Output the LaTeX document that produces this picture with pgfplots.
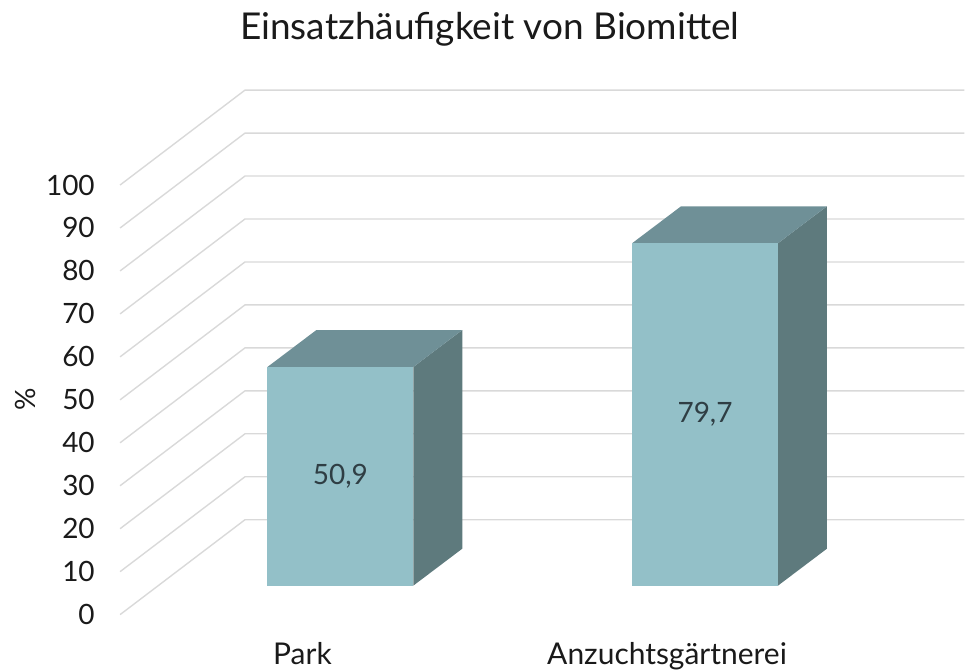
\documentclass[border=0pt]{standalone}
\usepackage{pgfplots}
\pgfplotsset{compat=1.18}
\usepackage{fontspec}
\setmainfont{Lato}
\definecolor{barfront}{RGB}{147,192,200}
\definecolor{bartop}{RGB}{111,144,151}
\definecolor{barside}{RGB}{94,122,125}
\definecolor{gridc}{RGB}{217,217,217}
\definecolor{txt}{RGB}{26,26,26}
\definecolor{valtxt}{RGB}{47,62,68}
\begin{document}
\begin{tikzpicture}
% oblique 3D look: floor depth = (+0.3425 in x, +22.09 in y); bars sit between depth 0.305 and 0.695
\begin{axis}[
  scale only axis, width=482.5pt, height=336pt,
  xmin=-0.3288, xmax=2.3151, ymin=-13.256, ymax=143.02,
  axis line style={draw=none}, major tick length=0pt,
  clip=false,
  xtick={0.5,1.5}, xticklabels={Park,Anzuchtsgärtnerei},
  xticklabel style={font=\fontsize{15}{18}\selectfont, color=txt, anchor=base, inner sep=0pt, yshift=3.5pt},
  ytick={0,10,...,100},
  yticklabel style={font=\fontsize{14}{17}\selectfont, color=txt, anchor=east, inner sep=0pt, xshift=47.5pt},
  /pgf/number format/assume math mode=true,
  ylabel={\%},
  ylabel style={at={(rel axis cs:0.0259,0.405)}, anchor=center, font=\fontsize{14}{17}\selectfont, color=txt},
  title={Einsatzhäufigkeit von Biomittel},
  every axis title shift=0pt,
  title style={at={(rel axis cs:0.5078,0.942)}, anchor=base, inner sep=0pt, font=\fontsize{18.5}{22}\selectfont, color=txt},
]
% gridlines: diagonal on the floor side, then along the back wall
\addplot[gridc, line width=0.7pt] coordinates {(0,0) (0.3425,22.09) (2.3151,22.09)};
\addplot[gridc, line width=0.7pt] coordinates {(0,10) (0.3425,32.09) (2.3151,32.09)};
\addplot[gridc, line width=0.7pt] coordinates {(0,20) (0.3425,42.09) (2.3151,42.09)};
\addplot[gridc, line width=0.7pt] coordinates {(0,30) (0.3425,52.09) (2.3151,52.09)};
\addplot[gridc, line width=0.7pt] coordinates {(0,40) (0.3425,62.09) (2.3151,62.09)};
\addplot[gridc, line width=0.7pt] coordinates {(0,50) (0.3425,72.09) (2.3151,72.09)};
\addplot[gridc, line width=0.7pt] coordinates {(0,60) (0.3425,82.09) (2.3151,82.09)};
\addplot[gridc, line width=0.7pt] coordinates {(0,70) (0.3425,92.09) (2.3151,92.09)};
\addplot[gridc, line width=0.7pt] coordinates {(0,80) (0.3425,102.09) (2.3151,102.09)};
\addplot[gridc, line width=0.7pt] coordinates {(0,90) (0.3425,112.09) (2.3151,112.09)};
\addplot[gridc, line width=0.7pt] coordinates {(0,100) (0.3425,122.09) (2.3151,122.09)};

% Park: 50.9
\addplot[fill=barside, draw=none] coordinates {(0.8041,6.744) (0.9384,15.35) (0.9384,66.25) (0.8041,57.644)} -- cycle;
\addplot[fill=bartop, draw=none] coordinates {(0.4041,57.644) (0.8041,57.644) (0.9384,66.25) (0.5384,66.25)} -- cycle;
\addplot[fill=barfront, draw=none] coordinates {(0.4041,6.744) (0.8041,6.744) (0.8041,57.644) (0.4041,57.644)} -- cycle;

% Anzuchtsgärtnerei: 79.7
\addplot[fill=barside, draw=none] coordinates {(1.8041,6.744) (1.9384,15.35) (1.9384,95.05) (1.8041,86.444)} -- cycle;
\addplot[fill=bartop, draw=none] coordinates {(1.4041,86.444) (1.8041,86.444) (1.9384,95.05) (1.5384,95.05)} -- cycle;
\addplot[fill=barfront, draw=none] coordinates {(1.4041,6.744) (1.8041,6.744) (1.8041,86.444) (1.4041,86.444)} -- cycle;

% value labels in the middle of the front faces
\addplot[draw=none, point meta=explicit,
  nodes near coords={\pgfmathprintnumber[fixed,precision=1,zerofill,use comma]{\pgfplotspointmeta}},
  nodes near coords align={anchor=center},
  every node near coord/.append style={font=\fontsize{14}{17}\selectfont, color=valtxt, inner sep=0pt}]
  coordinates {(0.6041,32.194) [50.9] (1.6041,46.594) [79.7]};
\end{axis}
\end{tikzpicture}
\end{document}
